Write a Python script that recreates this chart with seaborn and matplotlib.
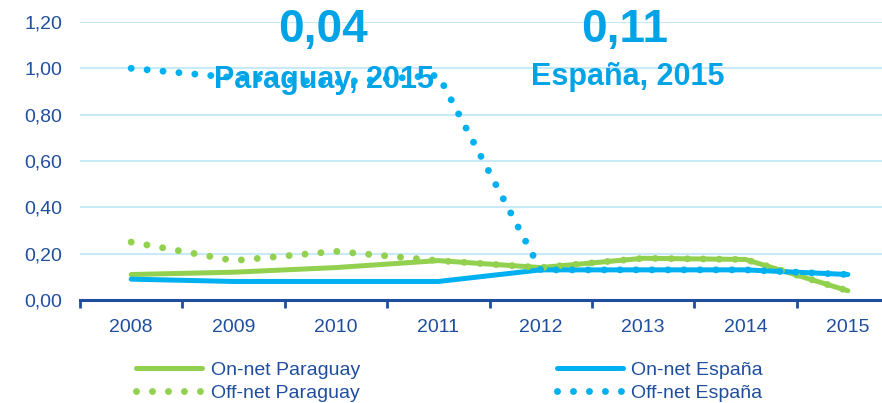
import numpy as np
import pandas as pd
import matplotlib
matplotlib.use('Agg')
import matplotlib.pyplot as plt
import seaborn as sns

years = ['2008', '2009', '2010', '2011', '2012', '2013', '2014', '2015']
on_net_paraguay = [0.11, 0.12, 0.14, 0.17, 0.14, 0.18, 0.175, 0.04]
on_net_espana = [0.09, 0.08, 0.08, 0.08, 0.13, 0.13, 0.13, 0.11]
off_net_paraguay = [0.25, 0.17, 0.21, 0.17, 0.14, 0.18, 0.175, 0.04]
off_net_espana = [1.00, 0.96, 0.94, 0.97, 0.13, 0.13, 0.13, 0.11]

green = '#92D050'
blue = '#00B0F0'
dark_blue = '#1F4E9F'
note_blue = '#00A3E6'

sns.set_style('white')
plt.rcParams['font.family'] = ['Liberation Sans', 'DejaVu Sans']

fig = plt.figure(figsize=(8.82, 4.03), dpi=100)
W, H = 882, 403
ax = fig.add_axes([80 / W, (H - 300) / H, 819 / W, 278 / H])

x = np.arange(len(years))
dots = (0, (0.001, 2.3))

sns.lineplot(x=x, y=on_net_paraguay, ax=ax, color=green, linewidth=3.6,
             label='On-net Paraguay', solid_capstyle='round')
sns.lineplot(x=x, y=on_net_espana, ax=ax, color=blue, linewidth=3.6,
             label='On-net España', solid_capstyle='round')
sns.lineplot(x=x, y=off_net_paraguay, ax=ax, color=green, linewidth=5,
             linestyle=dots, dash_capstyle='round', label='Off-net Paraguay')
sns.lineplot(x=x, y=off_net_espana, ax=ax, color=blue, linewidth=5,
             linestyle=dots, dash_capstyle='round', label='Off-net España')

ax.set_xlim(-0.5, 7.5)
ax.set_ylim(0, 1.2)
ax.set_yticks(np.arange(0, 1.21, 0.2))
ax.set_yticklabels([f'{v:.2f}'.replace('.', ',') for v in np.arange(0, 1.21, 0.2)])
ax.set_xticks(x)
ax.set_xticklabels(years)
ax.set_xticks(np.arange(-0.5, 8, 1), minor=True)
ax.tick_params(axis='x', which='major', length=0, pad=14, labelsize=14, labelcolor=dark_blue)
ax.tick_params(axis='x', which='minor', length=6, width=2, color=dark_blue, direction='out', bottom=True)
ax.tick_params(axis='y', length=0, pad=13, labelsize=14, labelcolor=dark_blue)
ax.grid(axis='y', color='#C8EAF8', linewidth=1.5)
ax.grid(axis='x', visible=False)
for side in ['left', 'right', 'top']:
    ax.spines[side].set_visible(False)
ax.spines['bottom'].set_color(dark_blue)
ax.spines['bottom'].set_linewidth(2.2)
ax.set_axisbelow(True)
ax.set_xlabel('')
ax.set_ylabel('')

handles, labels = ax.get_legend_handles_labels()
order = [0, 2, 1, 3]
ax.get_legend().remove()
leg = fig.legend([handles[i] for i in order], [labels[i] for i in order],
                 loc='upper left', bbox_to_anchor=(136 / W, (H - 361) / H),
                 ncol=2, frameon=False, fontsize=14, handlelength=3.4,
                 handletextpad=0.45, columnspacing=10.1, labelspacing=0.3,
                 borderpad=0, borderaxespad=0)
for t in leg.get_texts():
    t.set_color(dark_blue)

fig.text(323 / W, 1 - 30 / H, '0,04', ha='center', va='center', fontsize=33,
         fontweight='bold', color=note_blue)
fig.text(324 / W, 1 - 80 / H, 'Paraguay, 2015', ha='center', va='center', fontsize=22,
         fontweight='bold', color=note_blue)
fig.text(625 / W, 1 - 30 / H, '0,11', ha='center', va='center', fontsize=33,
         fontweight='bold', color=note_blue)
fig.text(628 / W, 1 - 77 / H, 'España, 2015', ha='center', va='center', fontsize=22,
         fontweight='bold', color=note_blue)

fig.savefig('out.png', dpi=100)
